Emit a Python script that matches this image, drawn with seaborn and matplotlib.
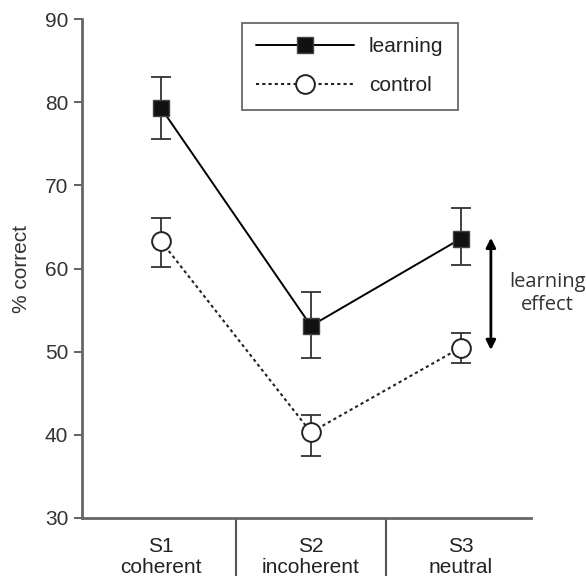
import matplotlib
matplotlib.use("Agg")
import matplotlib.pyplot as plt
import seaborn as sns
import pandas as pd
import numpy as np

categories = ["S1\ncoherent", "S2\nincoherent", "S3\nneutral"]
learning = [79.3, 53.1, 63.6]
learning_hi = [83.1, 57.2, 67.3]
learning_lo = [75.6, 49.2, 60.4]
control = [63.3, 40.3, 50.5]
control_hi = [66.1, 42.4, 52.2]
control_lo = [60.2, 37.5, 48.6]
arrow_span = [63.7, 50.2]
yticks = [30, 40, 50, 60, 70, 80, 90]

sns.set_theme(style="white")
plt.rcParams["font.family"] = ["Liberation Sans", "DejaVu Sans"]

fig = plt.figure(figsize=(5.86, 5.8), dpi=100)
ax = fig.add_axes([0.140, 0.107, 0.766, 0.860])

x = np.arange(len(categories))
df = pd.DataFrame({
    "x": np.concatenate([x, x]),
    "y": learning + control,
    "group": ["learning"] * 3 + ["control"] * 3,
})

ecol = "#333333"
ax.errorbar(x, learning, yerr=[np.array(learning) - np.array(learning_lo), np.array(learning_hi) - np.array(learning)],
            fmt="none", ecolor=ecol, elinewidth=1.3, capsize=7.5, capthick=1.3, zorder=2)
ax.errorbar(x, control, yerr=[np.array(control) - np.array(control_lo), np.array(control_hi) - np.array(control)],
            fmt="none", ecolor=ecol, elinewidth=1.3, capsize=7.5, capthick=1.3, zorder=2)

sns.lineplot(data=df[df.group == "learning"], x="x", y="y", ax=ax, color="black", lw=1.4,
             marker="s", markersize=11, markerfacecolor="#111111", markeredgecolor="#444444",
             markeredgewidth=1.0, label="learning", zorder=3)
sns.lineplot(data=df[df.group == "control"], x="x", y="y", ax=ax, color="#222222", lw=1.5,
             linestyle=(0, (1.5, 1.5)), marker="o", markersize=13.5, markerfacecolor="white",
             markeredgecolor="#222222", markeredgewidth=1.4, label="control", zorder=3)

ax.set_xlim(-0.527, 2.467)
ax.set_ylim(30, 90)
ax.set_yticks(yticks)
ax.set_yticklabels([str(t) for t in yticks], fontsize=15, color="#333333")
ax.set_ylabel("% correct", fontsize=15, color="#333333", labelpad=10)
ax.set_xlabel("")

# dividers as major ticks, labels as minor ticks
ax.set_xticks([0.5, 1.5])
ax.set_xticklabels(["", ""])
ax.set_xticks(x, minor=True)
ax.set_xticklabels(categories, minor=True, fontsize=15, color="#222222", linespacing=1.12)
ax.tick_params(axis="x", which="major", length=42, width=1.5, color="#555555", direction="out", bottom=True)
ax.tick_params(axis="x", which="minor", length=0, pad=14, bottom=True)
ax.tick_params(axis="y", length=6, width=1.3, color="#555555", direction="out", pad=4, left=True)

for s in ["top", "right"]:
    ax.spines[s].set_visible(False)
for s in ["left", "bottom"]:
    ax.spines[s].set_color("#666666")
    ax.spines[s].set_linewidth(2.0)

leg = ax.legend(loc="upper left", bbox_to_anchor=(0.356, 0.993), fontsize=15,
                frameon=True, fancybox=False, edgecolor="#333333", handlelength=4.7,
                labelspacing=0.95, borderpad=0.7, handletextpad=0.7, borderaxespad=0)
leg.get_frame().set_linewidth(1.2)
for t in leg.get_texts():
    t.set_color("#222222")

ax.annotate("", xy=(2.2, arrow_span[1]), xytext=(2.2, arrow_span[0]),
            arrowprops=dict(arrowstyle="<|-|>", color="black", lw=2.0, mutation_scale=14,
                        shrinkA=0, shrinkB=0), annotation_clip=False)
ax.text(2.575, 57.0, "learning\neffect", ha="center", va="center", fontsize=14.5,
        color="#333333", linespacing=1.2, clip_on=False, family=["Open Sans", "DejaVu Sans"])

fig.savefig("out.png", dpi=100)
